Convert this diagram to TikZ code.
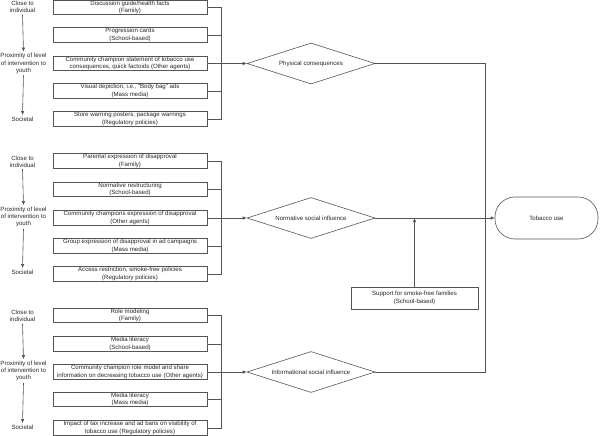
\documentclass[tikz,border=0pt]{standalone}
\usepackage{fontspec}
\setmainfont{Liberation Sans}
\usetikzlibrary{shapes.geometric,arrows.meta}
\definecolor{ln}{RGB}{85,85,85}
\begin{document}
\begin{tikzpicture}[x=1pt,y=-1pt,
  every node/.style={font=\fontsize{6.1}{7.3}\selectfont, text=black!85},
  ibox/.style={draw=ln, line width=0.6pt, minimum width=154pt, minimum height=14.5pt, inner sep=0pt, align=center},
  dia/.style={draw=ln, line width=0.6pt, diamond, aspect=3.12, minimum width=128pt, minimum height=41pt, inner sep=0pt, align=center},
  term/.style={draw=ln, line width=0.6pt, rounded corners=20pt, minimum width=103pt, minimum height=42pt, inner sep=0pt},
  lbl/.style={align=center, inner sep=1.5pt},
  con/.style={draw=ln, line width=0.6pt},
  arr/.style={con, -{Latex[length=4pt,width=3.5pt]}},
]
\useasboundingbox (0,0) rectangle (600,436);

% ---- Section 1
\node[lbl] (c1) at (22.5,7) {Close to\\individual};
\node[lbl] (p1) at (23.5,63.5) {Proximity of level\\of intervention to\\youth};
\node[lbl] (s1) at (22.5,119) {Societal};
\draw[arr] (c1.south) -- (p1.north);
\draw[arr] (p1.south) -- (s1.north);

\node[ibox] (b11) at (130,7.5) {Discussion guide/health facts\\(Family)};
\node[ibox] (b12) at (130,35) {Progression cards\\(School-based)};
\node[ibox] (b13) at (130,63.5) {Community champion statement of tobacco use\\consequences, quick factoids (Other agents)};
\node[ibox] (b14) at (130,91) {Visual depiction, i.e., ``Body bag'' ads\\(Mass media)};
\node[ibox] (b15) at (130,119) {Store warning posters, package warnings\\(Regulatory policies)};
\coordinate (j1) at (221,63.5);
\foreach \b in {b11,b12,b14,b15} \draw[con] (\b.east) -| (j1);
\draw[con] (b13.east) -- (j1);
\node[dia] (d1) at (311,63.5) {Physical consequences};
\draw[arr] (j1) -- (d1.west);

% ---- Section 2
\node[lbl] (c2) at (22.5,161.5) {Close to\\individual};
\node[lbl] (p2) at (23.5,217) {Proximity of level\\of intervention to\\youth};
\node[lbl] (s2) at (22.5,272) {Societal};
\draw[arr] (c2.south) -- (p2.north);
\draw[arr] (p2.south) -- (s2.north);

\node[ibox] (b21) at (130,161) {Parental expression of disapproval\\(Family)};
\node[ibox] (b22) at (130,189.5) {Normative restructuring\\(School-based)};
\node[ibox] (b23) at (130,218) {Community champions expression of disapproval\\(Other agents)};
\node[ibox] (b24) at (130,246) {Group expression of disapproval in ad campaigns\\(Mass media)};
\node[ibox] (b25) at (130,274) {Access restriction, smoke-free policies\\(Regulatory policies)};
\coordinate (j2) at (221,218);
\foreach \b in {b21,b22,b24,b25} \draw[con] (\b.east) -| (j2);
\draw[con] (b23.east) -- (j2);
\node[dia] (d2) at (311,218) {Normative social influence};
\draw[arr] (j2) -- (d2.west);

% ---- Section 3
\node[lbl] (c3) at (22.5,316) {Close to\\individual};
\node[lbl] (p3) at (23.5,371) {Proximity of level\\of intervention to\\youth};
\node[lbl] (s3) at (22.5,427) {Societal};
\draw[arr] (c3.south) -- (p3.north);
\draw[arr] (p3.south) -- (s3.north);

\node[ibox] (b31) at (130,315.5) {Role modeling\\(Family)};
\node[ibox] (b32) at (130,344) {Media literacy\\(School-based)};
\node[ibox] (b33) at (130,372) {Community champion role model and share\\information on decreasing tobacco use (Other agents)};
\node[ibox] (b34) at (130,399.5) {Media literacy\\(Mass media)};
\node[ibox] (b35) at (130,428) {Impact of tax increase and ad bans on visibility of\\tobacco use  (Regulatory policies)};
\coordinate (j3) at (221,372);
\foreach \b in {b31,b32,b34,b35} \draw[con] (\b.east) -| (j3);
\draw[con] (b33.east) -- (j3);
\node[dia] (d3) at (311,372) {Informational social influence};
\draw[arr] (j3) -- (d3.west);

% ---- Right side
\node[term] (tob) at (546.5,218) {Tobacco use};
\coordinate (jv) at (485,218);
\draw[con] (d1.east) -| (jv);
\draw[con] (d3.east) -| (jv);
\draw[arr] (d2.east) -- (tob.west);
\node[ibox, minimum width=127pt, minimum height=22pt] (sup) at (414.5,298) {Support for smoke-free families\\(School-based)};
\draw[arr] (sup.north) -- (sup.north |- d2.east);
\end{tikzpicture}
\end{document}
